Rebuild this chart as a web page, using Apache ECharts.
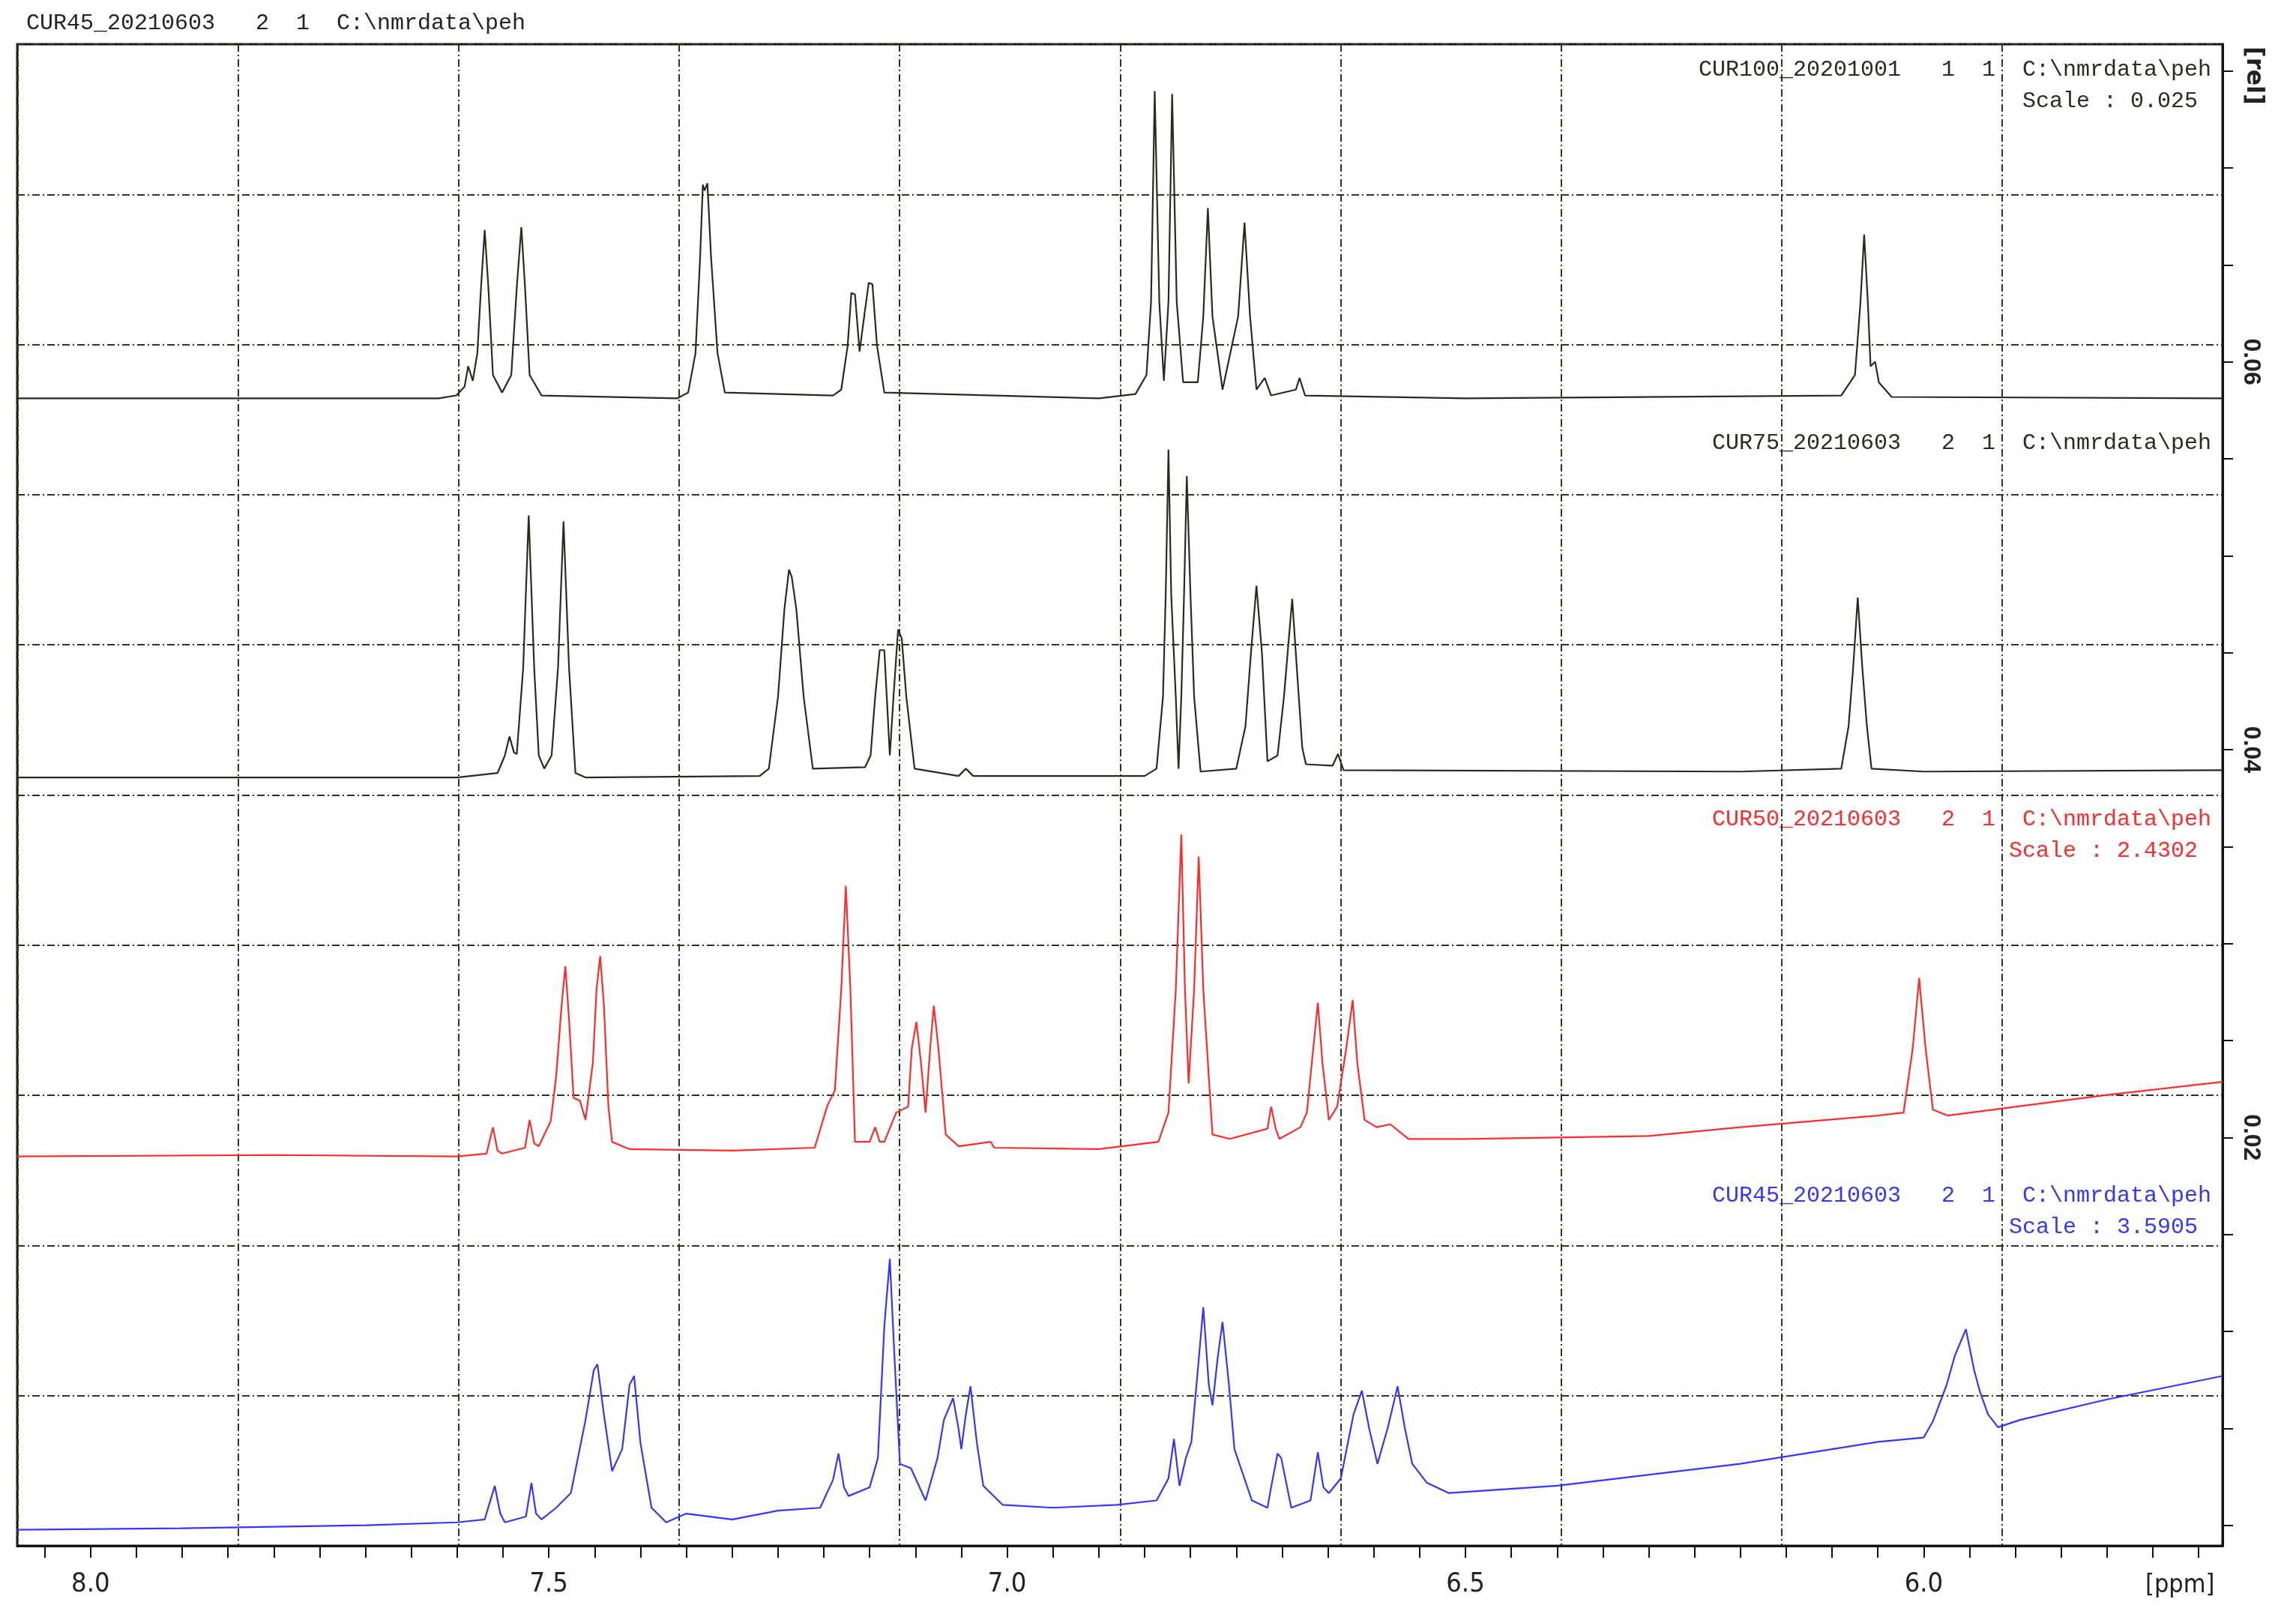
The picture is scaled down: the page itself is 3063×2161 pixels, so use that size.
<!DOCTYPE html>
<html><head><meta charset="utf-8">
<script src="https://cdn.jsdelivr.net/npm/echarts@6/dist/echarts.min.js"></script>
<style>html,body{margin:0;padding:0;background:#fff}#c{width:3063px;height:2161px}</style>
</head><body><div id="c"></div>
<script>
// ppm tick labels
const ppmLabels = [8.0, 7.5, 7.0, 6.5, 6.0];
const relLabels = [0.02, 0.04, 0.06];
// intensity (stacked display offset included) per spectrum: [ppm, intensity]
const cur100 = [[8.08,784],[7.62,784],[7.601,786],[7.592,792],[7.588,806],[7.583,796],[7.578,815],[7.574,860],[7.570,899],[7.566,860],[7.561,800],[7.551,788],[7.541,800],[7.535,860],[7.530,901],[7.526,860],[7.521,800],[7.508,786],[7.36,784],[7.348,788],[7.340,815],[7.335,880],[7.332,930],[7.330,926],[7.327,931],[7.323,880],[7.316,815],[7.308,788],[7.19,786],[7.181,790],[7.174,820],[7.170,856],[7.166,855],[7.161,816],[7.156,840],[7.151,863],[7.147,862],[7.142,820],[7.134,788],[6.90,784],[6.860,787],[6.848,800],[6.843,850],[6.839,994],[6.834,850],[6.829,796],[6.824,850],[6.820,992],[6.815,850],[6.808,795],[6.792,795],[6.786,840],[6.781,914],[6.776,840],[6.765,790],[6.748,840],[6.741,904],[6.735,840],[6.728,790],[6.719,798],[6.712,786],[6.685,790],[6.681,798],[6.675,786],[6.50,784],[6.09,786],[6.075,800],[6.069,850],[6.065,896],[6.061,850],[6.058,806],[6.053,809],[6.049,795],[6.035,785],[5.674,784]];
const cur75 = [[8.08,525],[7.60,525],[7.556,528],[7.548,540],[7.543,553],[7.538,542],[7.535,541],[7.528,600],[7.522,704],[7.516,600],[7.511,540],[7.505,531],[7.497,540],[7.490,600],[7.484,700],[7.478,600],[7.471,528],[7.460,525],[7.27,526],[7.260,531],[7.250,580],[7.243,640],[7.238,667],[7.235,662],[7.230,640],[7.222,580],[7.212,531],[7.155,532],[7.149,540],[7.144,580],[7.139,612],[7.134,612],[7.128,540],[7.124,580],[7.119,626],[7.115,620],[7.110,580],[7.101,531],[7.053,526],[7.045,531],[7.037,526],[6.85,526],[6.837,531],[6.830,580],[6.827,650],[6.824,749],[6.821,650],[6.816,580],[6.813,531],[6.810,580],[6.807,650],[6.804,731],[6.800,650],[6.796,580],[6.789,529],[6.750,531],[6.740,560],[6.734,610],[6.728,656],[6.722,610],[6.716,536],[6.705,540],[6.698,580],[6.694,610],[6.689,647],[6.684,600],[6.678,545],[6.674,534],[6.645,533],[6.639,541],[6.633,530],[6.20,529],[6.090,531],[6.082,560],[6.077,600],[6.072,648],[6.067,600],[6.062,560],[6.057,531],[6.0,529],[5.674,530]];
const cur50 = [[8.08,266],[7.80,267],[7.60,266],[7.568,268],[7.561,286],[7.556,270],[7.551,268],[7.526,272],[7.521,291],[7.516,275],[7.511,273],[7.498,290],[7.492,321],[7.486,370],[7.482,396],[7.478,360],[7.473,306],[7.466,304],[7.460,291],[7.452,330],[7.448,380],[7.444,403],[7.440,370],[7.435,300],[7.431,276],[7.412,271],[7.30,270],[7.21,272],[7.196,301],[7.188,311],[7.181,380],[7.176,451],[7.171,380],[7.166,276],[7.150,276],[7.144,286],[7.139,276],[7.134,276],[7.121,296],[7.108,300],[7.104,340],[7.099,358],[7.094,330],[7.089,296],[7.084,340],[7.080,369],[7.075,340],[7.067,281],[7.053,273],[7.018,276],[7.014,272],[6.90,271],[6.835,276],[6.824,296],[6.816,380],[6.810,486],[6.806,380],[6.802,316],[6.796,380],[6.791,471],[6.786,380],[6.776,281],[6.757,278],[6.716,285],[6.712,300],[6.707,285],[6.703,278],[6.680,286],[6.673,296],[6.666,340],[6.661,371],[6.656,330],[6.649,291],[6.640,300],[6.630,340],[6.623,373],[6.618,330],[6.610,291],[6.597,286],[6.582,288],[6.562,278],[6.50,278],[6.30,280],[6.20,286],[6.05,294],[6.022,296],[6.012,340],[6.005,388],[5.998,340],[5.990,298],[5.974,294],[5.90,300],[5.80,308],[5.674,317]];
const cur45 = [[8.08,11],[7.90,12],[7.70,14],[7.60,16],[7.570,18],[7.559,41],[7.553,22],[7.548,16],[7.525,20],[7.519,43],[7.514,22],[7.508,18],[7.492,26],[7.476,36],[7.460,86],[7.451,120],[7.447,124],[7.440,90],[7.431,51],[7.420,66],[7.412,110],[7.407,116],[7.400,70],[7.388,26],[7.372,16],[7.35,22],[7.30,18],[7.25,24],[7.204,26],[7.190,45],[7.184,63],[7.178,40],[7.173,34],[7.150,40],[7.141,60],[7.134,150],[7.128,196],[7.123,130],[7.117,56],[7.105,53],[7.089,31],[7.076,60],[7.069,86],[7.059,101],[7.053,80],[7.050,66],[7.045,90],[7.040,109],[7.033,70],[7.026,41],[7.005,28],[6.95,26],[6.88,28],[6.837,31],[6.824,46],[6.818,73],[6.812,41],[6.805,60],[6.799,71],[6.792,120],[6.786,163],[6.780,110],[6.776,96],[6.770,130],[6.765,153],[6.758,110],[6.752,66],[6.733,31],[6.716,26],[6.712,40],[6.705,63],[6.701,60],[6.690,26],[6.669,31],[6.661,64],[6.655,40],[6.649,36],[6.636,46],[6.622,90],[6.613,106],[6.605,80],[6.596,56],[6.585,80],[6.574,109],[6.566,80],[6.558,56],[6.542,43],[6.518,36],[6.40,41],[6.20,56],[6.05,71],[6.0,74],[5.990,85],[5.975,110],[5.966,130],[5.954,148],[5.945,120],[5.939,106],[5.930,90],[5.919,81],[5.895,86],[5.80,100],[5.674,116]];
const titles = ['CUR100_20201001   1  1  C:\\nmrdata\\peh','CUR75_20210603   2  1  C:\\nmrdata\\peh','CUR50_20210603   2  1  C:\\nmrdata\\peh','CUR45_20210603   2  1  C:\\nmrdata\\peh'];
const scales = ['Scale : 0.025', '', 'Scale : 2.4302', 'Scale : 3.5905'];

const L=23, R=98, T=59, B=99, W=3063, H=2161;
const ppmTicks=[]; for(let v=5.70; v<=8.06; v+=0.05) ppmTicks.push(+v.toFixed(2));
const relTicks=[]; for(let v=0; v<=0.0751; v+=0.005) relTicks.push(+v.toFixed(3));
const grid='#33331a';
const chart = echarts.init(document.getElementById('c'));
const F='30px "Liberation Mono"';
const cols=['#2b2b1c','#2b2b1c','#ff2a2a','#3535ff'];
const tops=[78,576,1078,1580];
const graphics=[{type:'text',left:35,top:16,style:{text:'CUR45_20210603   2  1  C:\\nmrdata\\peh',fill:'#222',font:F}},
  {type:'text',left:2990,top:62,rotation:-Math.PI/2,style:{text:'[rel]',fill:'#222',font:'bold 32px "DejaVu Sans"'}},
  {type:'text',left:2862,top:2098,style:{text:'[ppm]',fill:'#222',font:'34px "DejaVu Sans Condensed"'}}];
titles.forEach((t,i)=>{graphics.push({type:'text',right:W-2950,top:tops[i],style:{text:t,fill:cols[i],font:F}});
  if(scales[i]) graphics.push({type:'text',right:W-2932,top:tops[i]+42,style:{text:scales[i],fill:cols[i],font:F}});});
chart.setOption({
  animation:false,
  grid:{left:L,right:R,top:T,bottom:B,show:true,borderColor:'#111',borderWidth:3},
  xAxis:[
    {type:'value',inverse:true,min:5.674,max:8.08,position:'bottom',
     axisLine:{show:true,lineStyle:{color:'#111',width:3}},
     axisTick:{show:true,customValues:ppmTicks,length:16,lineStyle:{color:'#111',width:2}},
     axisLabel:{customValues:ppmLabels,formatter:v=>v.toFixed(1),fontSize:36,color:'#222',fontFamily:'DejaVu Sans Condensed',margin:34},
     splitLine:{show:false}},
    {type:'value',inverse:true,min:5.674,max:8.0795,interval:0.2405,show:true,position:'top',
     axisLine:{show:false},axisTick:{show:false},axisLabel:{show:false},
     splitLine:{show:true,lineStyle:{color:grid,width:2,type:[10,4,2,4]}}}
  ],
  yAxis:[
    {type:'value',min:0,max:1026,show:false},
    {type:'value',min:-0.00106,max:0.07638,position:'right',
     axisLine:{show:true,lineStyle:{color:'#111',width:3}},
     axisTick:{show:true,customValues:relTicks,length:14,lineStyle:{color:'#111',width:2}},
     axisLabel:{customValues:relLabels,formatter:v=>v.toFixed(2),rotate:-90,fontSize:32,fontWeight:'bold',color:'#222',margin:22},
     splitLine:{show:false}},
    {type:'value',min:0,max:10,interval:1,show:true,position:'left',
     axisLine:{show:false},axisTick:{show:false},axisLabel:{show:false},
     splitLine:{show:true,lineStyle:{color:grid,width:2,type:[10,4,2,4]}}}
  ],
  graphic:graphics,
  series:[cur100,cur75,cur50,cur45].map((d,i)=>({type:'line',data:d,xAxisIndex:0,yAxisIndex:0,showSymbol:false,
    lineStyle:{color:cols[i],width:2.2},z:5}))
});
</script></body></html>
